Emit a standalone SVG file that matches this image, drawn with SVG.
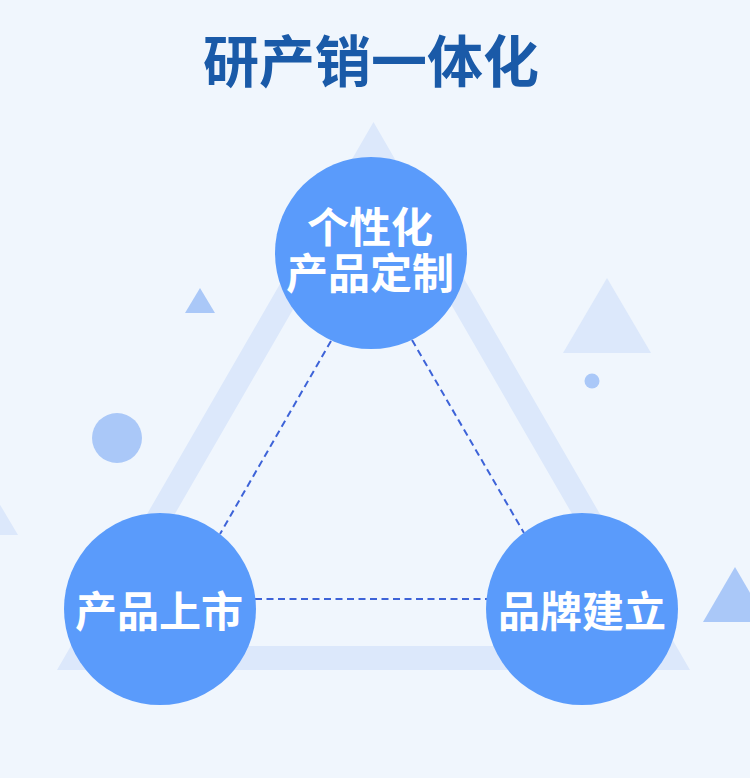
<svg xmlns="http://www.w3.org/2000/svg" width="750" height="778" viewBox="0 0 750 778">
  <defs>
    <style>
      .bg { fill: #f0f6fd; }
      .band { fill: #dce8fb; fill-rule: evenodd; }
      .deco-light { fill: #dce8fb; }
      .deco-mid { fill: #aac8f8; }
      .node-circle { fill: #5a9bfb; }
      .node-text { fill: #ffffff; font-family: "Noto Sans CJK SC", "Noto Sans", sans-serif; font-weight: 700; font-size: 42px; text-anchor: middle; }
      .title { fill: #1a5aa8; font-family: "Noto Sans CJK SC", "Noto Sans", sans-serif; font-weight: 700; font-size: 56px; text-anchor: middle; }
      .link { stroke: #3d63d8; stroke-width: 2; stroke-dasharray: 7 4.5; fill: none; }
    </style>
  </defs>

  <rect class="bg" x="0" y="0" width="750" height="778"/>

  <g id="background-shapes">
    <path class="band" d="M57,670 L373.5,122 L690,670 Z M98.6,646 L648.4,646 L373.5,170 Z"/>
    <polygon class="deco-mid" points="185,313 200,288 215,313"/>
    <circle class="deco-mid" cx="117" cy="438" r="25"/>
    <polygon class="deco-light" points="-20,535 -1,503 18,535"/>
    <polygon class="deco-light" points="563,353 607,278 651,353"/>
    <circle class="deco-mid" cx="592" cy="381" r="7.5"/>
    <polygon class="deco-mid" points="703,622 735,567 767,622"/>
  </g>

  <text id="title" class="title" x="371" y="82">研产销一体化</text>

  <g id="connectors">
    <line class="link" x1="331" y1="341" x2="220" y2="534"/>
    <line class="link" x1="412" y1="340" x2="524" y2="533"/>
    <line class="link" x1="255" y1="599" x2="487" y2="599"/>
  </g>

  <g id="node-custom">
    <circle class="node-circle" cx="371" cy="253" r="96"/>
    <text class="node-text"><tspan x="370" y="243">个性化</tspan><tspan x="370" y="289">产品定制</tspan></text>
  </g>

  <g id="node-launch">
    <circle class="node-circle" cx="160" cy="609" r="96"/>
    <text class="node-text" x="159" y="627">产品上市</text>
  </g>

  <g id="node-brand">
    <circle class="node-circle" cx="582" cy="609" r="96"/>
    <text class="node-text" x="582" y="627">品牌建立</text>
  </g>
</svg>
